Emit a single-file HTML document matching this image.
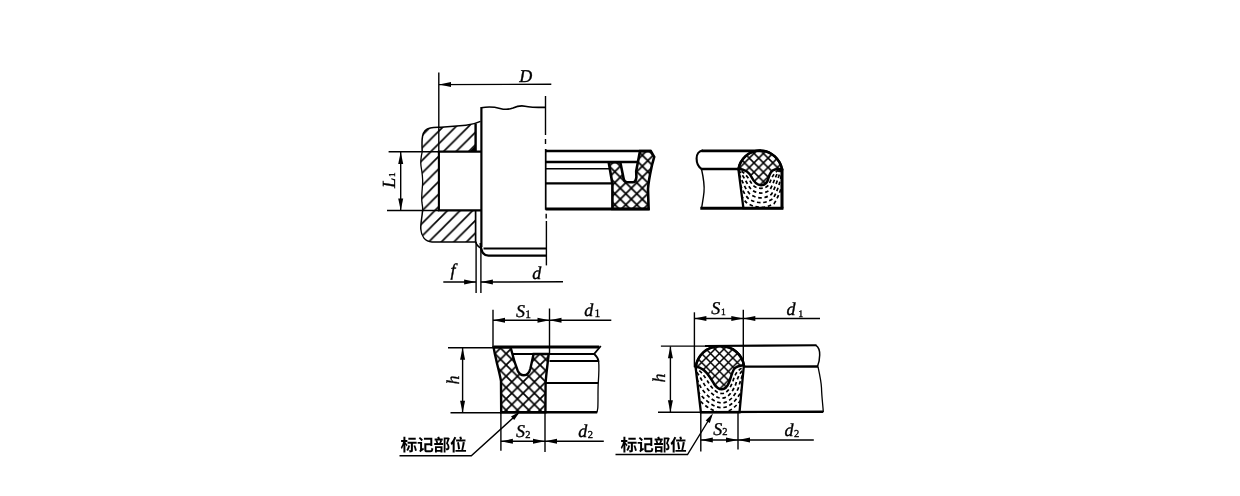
<!DOCTYPE html>
<html><head><meta charset="utf-8"><title>Seal dimensions</title>
<style>
html,body{margin:0;padding:0;background:#fff;}
body{width:1240px;height:496px;overflow:hidden;font-family:"Liberation Serif","Noto Sans CJK SC",serif;}
svg{display:block;will-change:transform;filter:grayscale(1);}
text{-webkit-font-smoothing:antialiased;text-rendering:geometricPrecision;}
</style></head><body>
<svg width="1240" height="496" viewBox="0 0 1240 496" stroke="#000" fill="none" stroke-linecap="butt">
<rect x="0" y="0" width="1240" height="496" fill="#fff" stroke="none"/>
<defs>
<pattern id="hatch" patternUnits="userSpaceOnUse" width="12.6" height="12.6" x="2.9" y="0">
<path d="M-2,14.6 L14.6,-2 M-2,2 L2,-2 M10.6,14.6 L14.6,10.6" stroke="#000" stroke-width="1.6" fill="none"/>
</pattern>
<pattern id="xh" patternUnits="userSpaceOnUse" width="9.4" height="9.4" x="2" y="3">
<path d="M-2,11.4 L11.4,-2 M-2,-2 L11.4,11.4" stroke="#000" stroke-width="1.5" fill="none"/>
</pattern>
<pattern id="xh11" patternUnits="userSpaceOnUse" width="11" height="11" x="4.3" y="1.2">
<path d="M-2,13 L13,-2 M-2,-2 L13,13" stroke="#000" stroke-width="1.7" fill="none"/>
</pattern>
<pattern id="xh4" patternUnits="userSpaceOnUse" width="8.9" height="8.9" x="3" y="2">
<path d="M-2,10.9 L10.9,-2 M-2,-2 L10.9,10.9" stroke="#000" stroke-width="1.5" fill="none"/>
</pattern>
<pattern id="xh3" patternUnits="userSpaceOnUse" width="11.3" height="11.3" x="8.95" y="3.35">
<path d="M-2,13.3 L13.3,-2 M-2,-2 L13.3,13.3" stroke="#000" stroke-width="1.7" fill="none"/>
</pattern>
</defs>
<path d="M422.2,151.6 C421.8,144 422,139 422.6,136 C423.5,131.5 426,128.8 430.2,128 C434,127.4 438,127.4 441,127.2 L466,125.2 C470,124.8 473,124.2 475.5,123.6 L475.5,151.6 Z" fill="url(#hatch)" stroke="none"/>
<path d="M422.2,151.6 C421.8,144 422,139 422.6,136 C423.5,131.5 426,128.8 430.2,128 C434,127.4 438,127.4 441,127.2 L466,125.2 C472,124.6 476,123.6 480.5,121.4" stroke-width="1.5" fill="none" />
<path d="M422.2,151.6 C420.8,158 420.4,162 421,166 C422.4,174 423,178 422.6,184 C422,192 421.2,198 422,203 C422.6,206 422.8,208 422.6,210.4 L439,210.4 L439,151.6 Z" fill="url(#hatch)" stroke="none"/>
<path d="M422.2,151.6 C420.8,158 420.4,162 421,166 C422.4,174 423,178 422.6,184 C422,192 421.2,198 422,203 C422.6,206 422.8,208 422.6,210.4" stroke-width="1.3" fill="none" />
<path d="M422.6,210.4 C422,218 420.4,224 420.8,229 C421.4,236 425,241.7 432,241.9 L475.5,241.9 L475.5,210.4 Z" fill="url(#hatch)" stroke="none"/>
<path d="M422.6,210.4 C422,218 420.4,224 420.8,229 C421.4,236 425,241.7 432,241.9 L475.5,241.9" stroke-width="1.5" fill="none" />
<line x1="475.6" y1="123.6" x2="475.6" y2="151.6" stroke-width="2.4" />
<line x1="475.6" y1="210.4" x2="475.6" y2="241.9" stroke-width="1.7" />
<path d="M469.5,151.6 L475.6,145.5 L475.6,151.6 Z" fill="#000" stroke="none"/>
<line x1="438.8" y1="72.5" x2="438.8" y2="151.6" stroke-width="1.4" />
<line x1="438.9" y1="151.6" x2="438.9" y2="210.4" stroke-width="2.1" />
<line x1="388.6" y1="151.8" x2="439" y2="151.8" stroke-width="1.4" />
<line x1="437.8" y1="151.7" x2="481.3" y2="151.7" stroke-width="2.2" />
<line x1="387" y1="210.5" x2="439" y2="210.5" stroke-width="1.4" />
<line x1="437.8" y1="210.4" x2="481.3" y2="210.4" stroke-width="2.2" />
<line x1="400.7" y1="152" x2="400.7" y2="210" stroke-width="1.4" />
<polygon points="400.70,151.90 403.20,163.90 398.20,163.90" fill="#000" stroke="none"/>
<polygon points="400.70,210.40 398.20,198.40 403.20,198.40" fill="#000" stroke="none"/>
<text transform="translate(394.8,188) rotate(-90)" font-size="18.5" font-style="italic" font-family='"Liberation Serif", serif' stroke="#000" stroke-width="0.35" fill="#000">L<tspan font-size="9" font-style="normal" dx="0.8" dy="-0.2">1</tspan></text>
<line x1="439" y1="84.6" x2="551.3" y2="84.2" stroke-width="1.4" />
<polygon points="439.00,84.60 451.00,82.10 451.00,87.10" fill="#000" stroke="none"/>
<text x="519.2" y="82.2" font-size="18" font-style="italic" font-family='"Liberation Serif", serif' stroke="#000" stroke-width="0.35" fill="#000">D</text>
<line x1="545.5" y1="96" x2="545.5" y2="135" stroke-width="1.4" />
<line x1="545.5" y1="139" x2="545.5" y2="144" stroke-width="1.4" />
<line x1="545.7" y1="149" x2="545.7" y2="209.8" stroke-width="1.7" />
<line x1="546.2" y1="213.7" x2="546.2" y2="218.5" stroke-width="1.4" />
<line x1="546.4" y1="221" x2="546.4" y2="265.4" stroke-width="1.4" />
<path d="M481.3,107.8 C487,106.6 494,106.8 500,108.4 C505,109.8 509,109.6 513,108 C517,106.2 521,105.4 525,106.2 C530,107.4 537,107.4 545.5,107.4" stroke-width="1.6" fill="none" />
<line x1="481.4" y1="107" x2="481.4" y2="247" stroke-width="2.2" />
<path d="M480.6,243 C480.6,251 483.5,255.6 488.5,255.6 L546.5,255.6" stroke-width="2.3" fill="none" />
<line x1="483.5" y1="248.6" x2="546.5" y2="248.6" stroke-width="2.0" />
<path d="M475.6,241.5 C476.3,244.5 478.2,246.8 480.8,248" stroke-width="1.5" fill="none" />
<line x1="476.1" y1="241.9" x2="476.1" y2="292.9" stroke-width="1.4" />
<line x1="480.9" y1="247" x2="480.9" y2="292.9" stroke-width="1.4" />
<line x1="443.3" y1="282" x2="476" y2="282" stroke-width="1.4" />
<polygon points="476.10,282.00 464.10,284.50 464.10,279.50" fill="#000" stroke="none"/>
<line x1="480.9" y1="282" x2="563" y2="281.8" stroke-width="1.4" />
<polygon points="480.90,282.00 492.90,279.50 492.90,284.50" fill="#000" stroke="none"/>
<text x="450.5" y="276" font-size="18" font-style="italic" font-family='"Liberation Serif", serif' stroke="#000" stroke-width="0.35" fill="#000">f</text>
<text x="532.3" y="279" font-size="18" font-style="italic" font-family='"Liberation Serif", serif' stroke="#000" stroke-width="0.35" fill="#000">d</text>
<line x1="545.6" y1="151.1" x2="651" y2="151.1" stroke-width="2.5" />
<line x1="545.6" y1="162" x2="638" y2="162" stroke-width="2.7" />
<line x1="545.6" y1="168.8" x2="609.5" y2="168.8" stroke-width="1.6" />
<line x1="545.6" y1="183.4" x2="612.5" y2="183.4" stroke-width="2.2" />
<line x1="545.6" y1="209" x2="649.5" y2="209" stroke-width="2.9" />
<path d="M608.7,162.3 L612.4,183.7 L612.4,209 L648.6,209 L648,189 C648.6,180 650.5,172 652,165 L654.2,157 L650.8,151.1 L640,151.1 L636.2,171 L636.4,177 C636,180.8 635,182.3 633,182.3 L627.5,182.3 C625,182.3 624,180.8 623.5,178 L620.3,162.3 Z" fill="url(#xh11)" stroke="#000" stroke-width="2.6" stroke-linejoin="miter"/>
<line x1="701.5" y1="150.9" x2="761" y2="150.9" stroke-width="2.8" />
<path d="M703,150.6 C699,150.6 696.6,154 696.6,158.6 C696.6,163 698.5,167 701.5,169" stroke-width="2.1" fill="none" />
<line x1="700.8" y1="169" x2="738.4" y2="169" stroke-width="2.4" />
<path d="M701.5,169 C703.5,178 704.6,186 704,192 C703.4,198 702.4,203 701.6,208.2" stroke-width="1.4" fill="none" />
<line x1="700.3" y1="208.2" x2="783.4" y2="208.2" stroke-width="2.9" />
<clipPath id="cb2"><path d="M738.4,169 L743.4,208.2 L782,208.2 L782,169 C780,160 772,150.6 760,150.6 C748,150.6 740,160 738.4,169 Z"/></clipPath>
<g clip-path="url(#cb2)" fill="none" stroke="#000" stroke-width="1.7" stroke-dasharray="3.6 2.7">
<path d="M737.8000000000001,169 C746.6,173.2 749.1,180.2 752.8,185.0 C757,189.39999999999998 765,189.39999999999998 768.7,185.0 C771.9,178.4 773.4,170.8 782,169" stroke-dashoffset="2.1"/>
<path d="M736.88,169 C743.84,174.58 746.34,183.88 751.42,189.6 C757,194.23 765,194.23 770.08,189.6 C774.66,181.16 776.16,171.72 782,169" stroke-dashoffset="4.2"/>
<path d="M735.96,169 C741.08,175.96 743.58,187.56 750.04,194.2 C757,199.06 765,199.06 771.46,194.2 C777.42,183.92 778.92,172.64 782,169" stroke-dashoffset="6.300000000000001"/>
<path d="M735.0400000000001,169 C738.32,177.34 740.82,191.24 748.66,198.8 C757,203.89 765,203.89 772.84,198.8 C780.18,186.68 781.68,173.56 782,169" stroke-dashoffset="8.4"/>
<path d="M734.12,169 C735.56,178.72 738.06,194.92 747.28,203.4 C757,208.72 765,208.72 774.22,203.4 C782.94,189.44 784.44,174.48 782,169" stroke-dashoffset="10.5"/>
</g>
<path d="M738.4,169 L743.4,208.2 L782,208.2 L782,169 C780,160 772,150.6 760,150.6 C748,150.6 740,160 738.4,169 Z" fill="none" stroke="#000" stroke-width="2.3"/>
<path d="M738.6,169 C740,160 748,150.6 760,150.6 C772,150.6 780,160 782,169 L775,169.4 C771,170 769.5,174 768.5,178 C767.5,182.5 765,185.2 761,185.2 C757,185.2 754,182 751.5,177 C749,172 746,169.6 738.6,169 Z" fill="url(#xh)" stroke="#000" stroke-width="2.5"/>
<line x1="782" y1="168.6" x2="782" y2="208.4" stroke-width="2.9" />
<line x1="493" y1="309.8" x2="493" y2="347.5" stroke-width="1.4" />
<line x1="549.5" y1="308.5" x2="549.5" y2="354" stroke-width="1.4" />
<line x1="493" y1="320.3" x2="611.3" y2="320.3" stroke-width="1.4" />
<polygon points="493.00,320.30 505.00,317.80 505.00,322.80" fill="#000" stroke="none"/>
<polygon points="549.50,320.30 537.50,322.80 537.50,317.80" fill="#000" stroke="none"/>
<polygon points="549.50,320.30 561.50,317.80 561.50,322.80" fill="#000" stroke="none"/>
<text x="516" y="317" font-size="18" font-style="italic" font-family='"Liberation Serif", serif' stroke="#000" stroke-width="0.35" fill="#000">S<tspan font-size="11.5" font-style="normal" dx="0.3" dy="1">1</tspan></text>
<text x="584.2" y="316" font-size="18" font-style="italic" font-family='"Liberation Serif", serif' stroke="#000" stroke-width="0.35" fill="#000">d<tspan font-size="11.5" font-style="normal" dx="1.3" dy="1.3">1</tspan></text>
<line x1="448" y1="347.7" x2="494" y2="347.7" stroke-width="1.4" />
<line x1="450.5" y1="412.8" x2="501" y2="412.8" stroke-width="1.4" />
<line x1="462.6" y1="348" x2="462.6" y2="412" stroke-width="1.4" />
<polygon points="462.60,347.80 465.10,359.80 460.10,359.80" fill="#000" stroke="none"/>
<polygon points="462.60,412.70 460.10,400.70 465.10,400.70" fill="#000" stroke="none"/>
<text transform="translate(458.6,384.4) rotate(-90)" font-size="18" font-style="italic" font-family='"Liberation Serif", serif' stroke="#000" stroke-width="0.35" fill="#000">h</text>
<path d="M493.5,347 L599.2,347" stroke-width="2.8" fill="none" />
<path d="M600.8,346 L594.2,354 C596.5,356 598.3,358.5 598.6,361.5" stroke-width="1.8" fill="none" />
<line x1="512" y1="354" x2="594.5" y2="354" stroke-width="2.1" />
<line x1="549.5" y1="361.1" x2="598.4" y2="361.1" stroke-width="2.0" />
<line x1="546" y1="383" x2="598.2" y2="383" stroke-width="2.0" />
<line x1="500" y1="412.2" x2="597.2" y2="412.2" stroke-width="2.5" />
<path d="M598.6,361.1 C599.4,368 598.6,378 598.2,384 C597.8,392 598.2,402 597.8,408 L597,412.5" stroke-width="1.3" fill="none" />
<path d="M493.6,347.4 C494.4,352 495,355 495.8,358 C497.4,366 499.6,373 501,381 L501.2,412.2 L545.4,412.2 L545.6,383 C546.2,374 547.6,364 548.7,354 L533.6,354 L530.4,368.5 C529.2,373.2 527.2,375.2 523.9,375.2 C520.6,375.2 518.9,373.4 517.6,370.4 L514.6,362 L510.6,347.4 Z" fill="url(#xh3)" stroke="#000" stroke-width="2.4"/>
<line x1="500.9" y1="412.5" x2="500.9" y2="450.8" stroke-width="1.4" />
<line x1="545" y1="412.5" x2="545" y2="452" stroke-width="1.4" />
<line x1="500.9" y1="441.3" x2="603.8" y2="441.3" stroke-width="1.4" />
<polygon points="500.90,441.30 512.90,438.80 512.90,443.80" fill="#000" stroke="none"/>
<polygon points="545.00,441.30 533.00,443.80 533.00,438.80" fill="#000" stroke="none"/>
<polygon points="545.00,441.30 557.00,438.80 557.00,443.80" fill="#000" stroke="none"/>
<text x="516" y="437" font-size="18" font-style="italic" font-family='"Liberation Serif", serif' stroke="#000" stroke-width="0.35" fill="#000">S<tspan font-size="10.5" font-style="normal" dx="0.3" dy="0.8">2</tspan></text>
<text x="578.2" y="437.2" font-size="18" font-style="italic" font-family='"Liberation Serif", serif' stroke="#000" stroke-width="0.35" fill="#000">d<tspan font-size="10.5" font-style="normal" dx="0.5" dy="0.6">2</tspan></text>
<text x="400.4" y="451" font-size="16.8" font-weight="bold" letter-spacing="-0.25" font-family='"Liberation Sans", "Noto Sans CJK SC", "WenQuanYi Zen Hei", sans-serif' stroke="none" fill="#000">标记部位</text>
<path d="M399.5,455.8 L471.3,455.8 L518,413.5" stroke-width="1.4" fill="none" />
<polygon points="520.00,411.60 514.21,420.10 510.98,416.54" fill="#000" stroke="none"/>
<line x1="694.4" y1="312.3" x2="694.4" y2="367.2" stroke-width="1.4" />
<line x1="743.3" y1="309.8" x2="743.3" y2="365" stroke-width="1.4" />
<line x1="694.4" y1="318.5" x2="820" y2="318.5" stroke-width="1.4" />
<polygon points="694.40,318.50 706.40,316.00 706.40,321.00" fill="#000" stroke="none"/>
<polygon points="743.30,318.50 731.30,321.00 731.30,316.00" fill="#000" stroke="none"/>
<polygon points="743.30,318.50 755.30,316.00 755.30,321.00" fill="#000" stroke="none"/>
<text x="711.3" y="314.4" font-size="18" font-style="italic" font-family='"Liberation Serif", serif' stroke="#000" stroke-width="0.35" fill="#000">S<tspan font-size="9.5" font-style="normal" dx="0.6" dy="0.8">1</tspan></text>
<text x="786.6" y="314.6" font-size="18" font-style="italic" font-family='"Liberation Serif", serif' stroke="#000" stroke-width="0.35" fill="#000">d<tspan font-size="10" font-style="normal" dx="2.6" dy="2">1</tspan></text>
<line x1="660.9" y1="346.1" x2="706" y2="346.1" stroke-width="1.4" />
<line x1="658" y1="412.3" x2="702" y2="412.3" stroke-width="1.4" />
<line x1="670.4" y1="346.5" x2="670.4" y2="412" stroke-width="1.4" />
<polygon points="670.40,346.20 672.90,358.20 667.90,358.20" fill="#000" stroke="none"/>
<polygon points="670.40,412.20 667.90,400.20 672.90,400.20" fill="#000" stroke="none"/>
<text transform="translate(664.7,382.5) rotate(-90)" font-size="18" font-style="italic" font-family='"Liberation Serif", serif' stroke="#000" stroke-width="0.35" fill="#000">h</text>
<line x1="705" y1="346" x2="816.5" y2="345.3" stroke-width="2.1" />
<path d="M816,345.3 C818.6,347 819.8,351 819.7,355 C819.6,360 818.8,363.5 817.5,366.5" stroke-width="1.5" fill="none" />
<line x1="743.5" y1="366.6" x2="818.2" y2="366.5" stroke-width="2.3" />
<line x1="701" y1="412.1" x2="823.3" y2="411.7" stroke-width="2.4" />
<path d="M818,366.6 C819.8,375 821.3,382 821.5,388 C821.8,398 823,406 823.3,412" stroke-width="1.3" fill="none" />
<clipPath id="cb4"><path d="M695.6,367 L700.9,412.3 L739.5,412.3 L743.9,365 C742,355 734,346.2 720,346.2 C706,346.2 697.5,356 695.6,367 Z"/></clipPath>
<g clip-path="url(#cb4)" fill="none" stroke="#000" stroke-width="1.7" stroke-dasharray="3.6 2.7">
<path d="M695.8,368.65 C700.85,370.61 703.92,375.44 707.2199999999999,380.655 C710.065,385.085 715.14,393.5 721.8,393.5 C727.36,393.5 730.22,387.87 732.865,381.44 C734.58,375.01 737.65,369.08 743.9,367.34999999999997" stroke-dashoffset="2.3"/>
<path d="M695.8,371.0 C698.5,373.90000000000003 701.1,379.2 704.4,384.65 C707.95,389.55 714.2,398.2 721.8,398.2 C728.3,398.2 732.1,392.1 735.45,385.2 C737.4,378.3 740.0,371.9 743.9,369.7" stroke-dashoffset="4.6"/>
<path d="M695.8,373.35 C696.15,377.19 698.28,382.96 701.5799999999999,388.645 C705.835,394.015 713.26,402.9 721.8,402.9 C729.24,402.9 733.98,396.33 738.035,388.96 C740.22,381.59 742.35,374.72 743.9,372.05" stroke-dashoffset="6.8999999999999995"/>
<path d="M695.8,375.7 C693.8,380.48 695.46,386.72 698.76,392.64 C703.72,398.48 712.32,407.59999999999997 721.8,407.59999999999997 C730.18,407.59999999999997 735.86,400.56 740.62,392.72 C743.04,384.88 744.7,377.54 743.9,374.4" stroke-dashoffset="9.2"/>
<path d="M695.8,378.05 C691.45,383.77000000000004 692.64,390.48 695.9399999999999,396.635 C701.605,402.945 711.38,412.3 721.8,412.3 C731.12,412.3 737.74,404.79 743.205,396.48 C745.86,388.17 747.05,380.36 743.9,376.75" stroke-dashoffset="11.5"/>
</g>
<path d="M695.6,367 L700.9,412.3 L739.5,412.3 L743.9,365 C742,355 734,346.2 720,346.2 C706,346.2 697.5,356 695.6,367 Z" fill="none" stroke="#000" stroke-width="2.3"/>
<path d="M695.8,366.5 C697.5,356 706,346.2 720,346.2 C734,346.2 742,355 743.9,365.2 C739,365.6 735.5,366.5 733.8,369.5 C731.5,373.5 730.8,378 729,382.5 C727.3,386.8 725,389.2 721.8,389.2 C718.5,389.2 716.3,387.5 714.3,384.3 C712,380.5 711.5,379.5 709.8,377 C706.5,372 703,367.6 695.8,366.5 Z" fill="url(#xh4)" stroke="#000" stroke-width="2.5"/>
<line x1="700.8" y1="412.3" x2="700.8" y2="451.5" stroke-width="1.4" />
<line x1="738" y1="412.3" x2="738" y2="449.5" stroke-width="1.4" />
<line x1="700.8" y1="440" x2="813.8" y2="440" stroke-width="1.4" />
<polygon points="700.80,440.00 712.80,437.50 712.80,442.50" fill="#000" stroke="none"/>
<polygon points="738.00,440.00 726.00,442.50 726.00,437.50" fill="#000" stroke="none"/>
<polygon points="738.00,440.00 750.00,437.50 750.00,442.50" fill="#000" stroke="none"/>
<text x="713.3" y="434.6" font-size="18" font-style="italic" font-family='"Liberation Serif", serif' stroke="#000" stroke-width="0.35" fill="#000">S<tspan font-size="10.5" font-style="normal" dx="0" dy="0.4">2</tspan></text>
<text x="784.5" y="436" font-size="18" font-style="italic" font-family='"Liberation Serif", serif' stroke="#000" stroke-width="0.35" fill="#000">d<tspan font-size="10.5" font-style="normal" dx="0.5" dy="1.2">2</tspan></text>
<text x="620.4" y="450.6" font-size="16.8" font-weight="bold" letter-spacing="-0.25" font-family='"Liberation Sans", "Noto Sans CJK SC", "WenQuanYi Zen Hei", sans-serif' stroke="none" fill="#000">标记部位</text>
<path d="M615.5,454.5 L687.5,454.5 L711.5,415.5" stroke-width="1.4" fill="none" />
<polygon points="713.00,413.30 709.78,423.07 705.70,420.54" fill="#000" stroke="none"/>
</svg>
</body></html>
